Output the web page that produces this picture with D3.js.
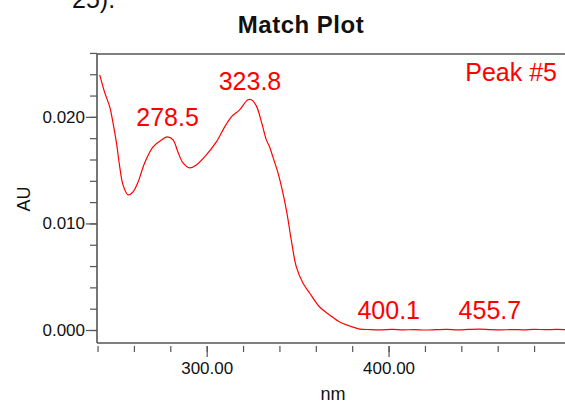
<!DOCTYPE html>
<html>
<head>
<meta charset="utf-8">
<script src="https://cdn.jsdelivr.net/npm/d3@7"></script>
<style>
  body { margin: 0; background: #fff; }
  svg { display: block; font-family: "Liberation Sans", Arial, sans-serif; }
</style>
</head>
<body>
<svg id="chart" width="565" height="403"></svg>
<script>
// spectrum (nm, AU)
const wavelength = [241.2, 244.0, 246.7, 248.5, 250.4, 252.2, 254.0, 256.8, 259.5, 262.3,
    265.9, 270.5, 275.1, 278.4, 281.5, 284.2, 287.0, 290.7, 294.3, 299.8,
    305.3, 309.9, 313.6, 318.1, 322.7, 324.6, 327.3, 330.1, 332.8, 334.6,
    336.4, 339.2, 341.9, 344.1, 346.5, 349.3, 352.9, 356.6, 362.1, 367.6,
    373.1, 378.6, 384.1, 390.0, 396.0, 402.0, 408.0, 414.0, 420.0, 426.0,
    432.0, 438.0, 444.0, 450.0, 456.0, 462.0, 468.0, 474.0, 480.0, 486.0,
    492.0, 497.0];
const absorbance = [0.02394, 0.02225, 0.02094, 0.01944, 0.01756, 0.01531, 0.01362, 0.01268, 0.01296, 0.01390,
    0.01568, 0.01718, 0.01784, 0.01812, 0.01784, 0.01671, 0.01568, 0.01521, 0.01549, 0.01643,
    0.01765, 0.01906, 0.02000, 0.02066, 0.02160, 0.02160, 0.02103, 0.01953, 0.01784, 0.01718,
    0.01624, 0.01474, 0.01286, 0.01099, 0.00845, 0.00592, 0.00441, 0.00347, 0.00216, 0.00141,
    0.00075, 0.00038, 0.00009, 0.00004, 0.00002, 0.00005, 0.00001, 0.00004, 0.00000, 0.00003,
    0.00006, 0.00002, 0.00005, 0.00008, 0.00003, 0.00001, 0.00004, 0.00002, 0.00006, 0.00003,
    0.00005, 0.00004];

const peakNm = [278.5, 323.8, 400.1, 455.7];
const peakAu = [0.0182, 0.0216, 0.0001, 0.0001];

const xMinor = [240, 260, 280, 300, 320, 340, 360, 380, 400, 420, 440, 460, 480];
const xMajor = [300, 400];
const yMinor = d3.range(0, 14).map(i => i * 0.002);
const yMajor = [0, 0.010, 0.020];

const svg = d3.select("#chart");
const plotLeft = 97, plotRight = 565, plotTop = 54, plotBottom = 343;

const x = d3.scaleLinear().domain([239.7, 497]).range([plotLeft, plotRight]);
const y = d3.scaleLinear().domain([-0.00122, 0.0259]).range([plotBottom, plotTop]);

const axisColor = "#555";

// text fragment cut by the top edge, as in the source image
svg.append("text")
    .attr("x", 72).attr("y", 8)
    .attr("font-size", 25)
    .attr("fill", "#111")
    .text("25).");

svg.append("text")
    .attr("x", 301).attr("y", 33)
    .attr("text-anchor", "middle")
    .attr("font-size", 24)
    .attr("font-weight", "bold")
    .attr("letter-spacing", 0.5)
    .attr("fill", "#111")
    .text("Match Plot");

// y axis: minor ticks, then labeled majors
const gyMinor = svg.append("g").attr("transform", `translate(${plotLeft},0)`)
    .call(d3.axisLeft(y).tickValues(yMinor).tickSize(7).tickFormat(""));
const gyMajor = svg.append("g").attr("transform", `translate(${plotLeft},0)`)
    .call(d3.axisLeft(y).tickValues(yMajor).tickSize(11).tickPadding(1).tickFormat(d3.format(".3f")));

// x axis sits a few px below the frame line
const gxMinor = svg.append("g").attr("transform", `translate(0,${plotBottom + 3})`)
    .call(d3.axisBottom(x).tickValues(xMinor).tickSize(6).tickFormat(""));
const gxMajor = svg.append("g").attr("transform", `translate(0,${plotBottom + 3})`)
    .call(d3.axisBottom(x).tickValues(xMajor).tickSize(11).tickPadding(5).tickFormat(d3.format(".2f")));

[gyMinor, gyMajor, gxMinor, gxMajor].forEach(g => {
    g.select(".domain").remove();
    g.selectAll(".tick line").attr("stroke", axisColor).attr("stroke-width", 1.2);
    g.selectAll(".tick text")
        .attr("font-family", "Liberation Sans, Arial, sans-serif")
        .attr("font-size", 17)
        .attr("fill", "#111");
});

// frame lines
svg.append("path")
    .attr("d", `M${plotLeft},${plotBottom}V${plotTop}H${plotRight}M${plotLeft},${plotBottom}H${plotRight}`)
    .attr("fill", "none")
    .attr("stroke", axisColor)
    .attr("stroke-width", 1.6);

svg.append("text")
    .attr("transform", "translate(30,199) rotate(-90)")
    .attr("text-anchor", "middle")
    .attr("font-size", 18)
    .attr("fill", "#111")
    .text("AU");

svg.append("text")
    .attr("x", 333).attr("y", 400)
    .attr("text-anchor", "middle")
    .attr("font-size", 18)
    .attr("fill", "#111")
    .text("nm");

const line = d3.line()
    .x((d, i) => x(wavelength[i]))
    .y(d => y(d))
    .curve(d3.curveCatmullRom.alpha(0.5));

svg.append("path")
    .datum(absorbance)
    .attr("fill", "none")
    .attr("stroke", "#ff0000")
    .attr("stroke-width", 1.2)
    .attr("d", line);

svg.append("g")
    .selectAll("text")
    .data(peakNm)
    .join("text")
    .attr("x", d => x(d))
    .attr("y", (d, i) => y(peakAu[i]) - 10)
    .attr("text-anchor", "middle")
    .attr("font-size", 25)
    .attr("fill", "#ff0000")
    .text(d => d.toFixed(1));

svg.append("text")
    .attr("x", 557).attr("y", 81)
    .attr("text-anchor", "end")
    .attr("font-size", 25)
    .attr("fill", "#ff0000")
    .text("Peak #5");
</script>
</body>
</html>
